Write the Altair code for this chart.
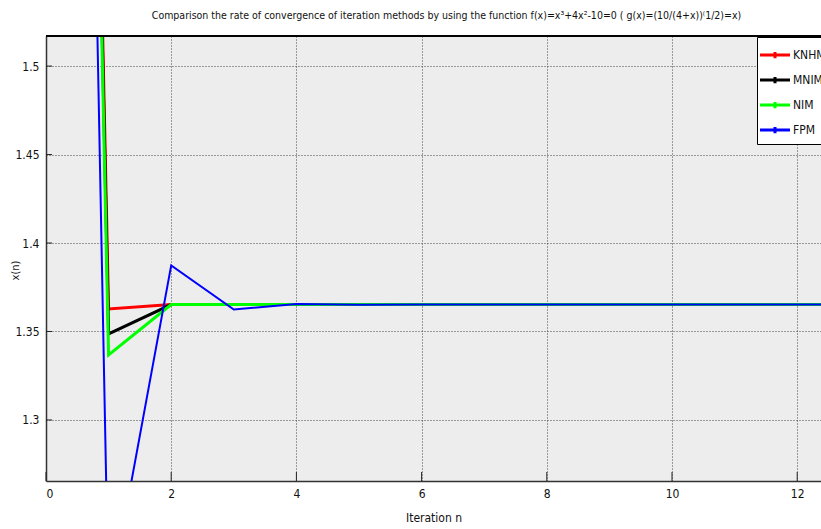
import altair as alt
import pandas as pd

# Iterates x(n) of each method for f(x)=x^3+4x^2-10, starting from x0 = 3
n_iter = list(range(0, 15))
knhm = [3.0, 1.3627, 1.36521, 1.36523, 1.36523, 1.36523, 1.36523, 1.36523,
        1.36523, 1.36523, 1.36523, 1.36523, 1.36523, 1.36523, 1.36523]
mnim = [3.0, 1.3486, 1.36520, 1.36523, 1.36523, 1.36523, 1.36523, 1.36523,
        1.36523, 1.36523, 1.36523, 1.36523, 1.36523, 1.36523, 1.36523]
nim = [3.0, 1.3367, 1.36519, 1.36523, 1.36523, 1.36523, 1.36523, 1.36523,
       1.36523, 1.36523, 1.36523, 1.36523, 1.36523, 1.36523, 1.36523]
fpm = [3.0, 1.19524, 1.38738, 1.36244, 1.36558, 1.36518, 1.36524, 1.36523,
       1.36523, 1.36523, 1.36523, 1.36523, 1.36523, 1.36523, 1.36523]

methods = ["KNHM", "MNIM", "NIM", "FPM"]
colors = ["#ff0000", "#000000", "#00ff00", "#0000ff"]
widths = [3, 3, 3, 2]
series = [knhm, mnim, nim, fpm]

x_ticks = [0, 2, 4, 6, 8, 10, 12]
y_ticks = [1.3, 1.35, 1.4, 1.45, 1.5]

x_domain = [0, 12.38]
y_domain = [1.2655, 1.517]

rows = []
for m, vals in zip(methods, series):
    for n, v in zip(n_iter, vals):
        rows.append({"n": n, "x": v, "method": m})
df = pd.DataFrame(rows)

FONT = "DejaVu Sans Condensed, Liberation Sans Narrow, sans-serif"

color_scale = alt.Scale(domain=methods, range=colors)
xs = alt.Scale(domain=x_domain, nice=False, zero=False)
ys = alt.Scale(domain=y_domain, nice=False, zero=False)

x_axis = alt.Axis(values=x_ticks, title="Iteration n", grid=True, ticks=False,
                  format="d", labelPadding=7, titlePadding=13,
                  domainColor="#333333", domainWidth=1.5)
y_axis = alt.Axis(values=y_ticks, title="x(n)", grid=True, ticks=False, format="~g",
                  labelPadding=7, titleX=-26, titleY=234, titleFontSize=11,
                  domainColor="#333333", domainWidth=1.5)

base = alt.Chart(df)

layers = []
for m, w in zip(methods, widths):
    layers.append(
        base.transform_filter(alt.datum.method == m)
        .mark_line(strokeWidth=w, clip=True)
        .encode(
            x=alt.X("n:Q", scale=xs, axis=x_axis),
            y=alt.Y("x:Q", scale=ys, axis=y_axis),
            color=alt.Color("method:N", scale=color_scale, sort=methods,
                            legend=alt.Legend(title=None)),
        )
    )

# short inward tick marks on the left and bottom frame
ytick_df = pd.DataFrame({"v": y_ticks})
xtick_df = pd.DataFrame({"v": x_ticks})
ytick_marks = alt.Chart(ytick_df).mark_rule(color="#222222", strokeWidth=1).encode(
    y=alt.Y("v:Q", scale=ys), x=alt.value(0), x2=alt.value(6))
xtick_marks = alt.Chart(xtick_df).mark_rule(color="#222222", strokeWidth=1).encode(
    x=alt.X("v:Q", scale=xs), y=alt.value(445), y2=alt.value(436))
top_frame = alt.Chart(xtick_df).mark_rule(color="#000000", strokeWidth=1.5).encode(
    x=alt.value(0), x2=alt.value(775), y=alt.value(0))

title_text = ("Comparison the rate of convergence  of iteration methods by using the "
              "function f(x)=x³+4x²-10=0  ( g(x)=(10/(4+x))⁽1/2)=x)")

chart = (
    alt.layer(*layers, ytick_marks, xtick_marks, top_frame)
    .properties(
        width=775,
        height=445,
        title=alt.Title(title_text, fontSize=10.5, font=FONT, fontWeight="normal",
                        anchor="middle", offset=14, dx=13, color="#111111"),
        autosize=alt.AutoSizeParams(type="none"),
        padding={"left": 46, "top": 36, "right": 0, "bottom": 48},
    )
    .configure(background="white")
    .configure_view(fill="#ededed", stroke=None)
    .configure_axis(
        labelFont=FONT, titleFont=FONT, labelFontSize=12, titleFontSize=12,
        labelColor="#111111", titleColor="#111111", titleFontWeight="normal",
        gridColor="#333333", gridDash=[1, 2], gridWidth=1, gridOpacity=0.9,
    )
    .configure_legend(
        orient="none", legendX=711, legendY=1,
        fillColor="white", strokeColor="#000000", strokeWidth=1,
        padding=4, rowPadding=1, labelFont=FONT, labelFontSize=12,
        labelColor="#111111", labelOffset=4,
        symbolType="M-1.2,0H1.2M0,-0.25V0.25", symbolSize=625,
        symbolStrokeWidth=3,
    )
)

chart.save("out.html", embed_options={"renderer": "svg", "actions": False})
